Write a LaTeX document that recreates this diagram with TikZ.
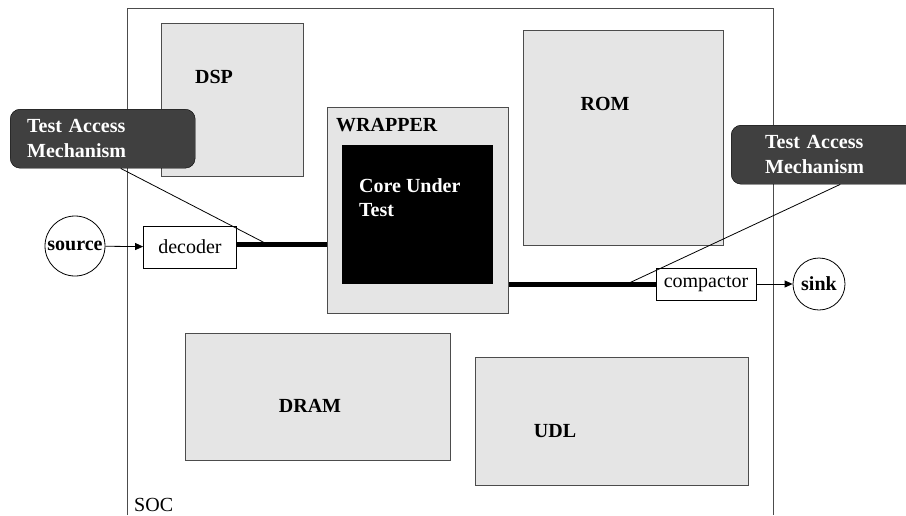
\documentclass[tikz,border=0pt]{standalone}
\usepackage{fontspec}
\setmainfont{Liberation Serif}
\usetikzlibrary{arrows.meta,positioning}

\begin{document}
\begin{tikzpicture}[
  x=1pt,y=-1pt,
  font=\fontsize{20}{24}\selectfont,
  block/.style={draw=black!70,fill=gray!20,line width=1pt,anchor=north west,inner sep=0pt},
  tam/.style={draw=black,fill=black!75,rounded corners=10pt,text=white,align=left,font=\fontsize{20}{25}\selectfont\bfseries,minimum height=59,inner ysep=0pt,anchor=north west},
  port/.style={draw,fill=white,line width=0.8pt,minimum width=93,minimum height=42,inner sep=0pt},
  endpt/.style={draw,circle,fill=white,line width=0.8pt,inner sep=0pt,font=\fontsize{20}{24}\selectfont\bfseries},
  lbl/.style={inner sep=0pt,font=\fontsize{20}{24}\selectfont\bfseries},
  bus/.style={line width=5pt},
  arrow/.style={-{Triangle[length=8pt,width=7pt]},line width=0.8pt}
]
\useasboundingbox (0,0) rectangle (906,515);
% soc frame
\draw[black!70,line width=1pt] (127,515) -- (127,8) -- (773,8) -- (773,515);
\node[anchor=west,inner sep=0pt] (soc) at (134,505) {SOC};
% cores on the chip
\node[block,minimum width=142,minimum height=153] (dsp) at (161,23) {};
\node[lbl] (dsplbl) at (214,77) {DSP};
\node[block,minimum width=200,minimum height=215] (rom) at (523,30) {};
\node[lbl] (romlbl) at (605,104) {ROM};
\node[block,minimum width=265,minimum height=127] (dram) at (185,333) {};
\node[lbl] (dramlbl) at (310,406) {DRAM};
\node[block,minimum width=273,minimum height=128] (udl) at (475,357) {};
\node[lbl] (udllbl) at (555,431) {UDL};
% wrapper and core under test
\node[block,minimum width=181,minimum height=206] (wrapper) at (327,107) {};
\node[lbl,anchor=west] (wraplbl) at (336,125) {WRAPPER};
\node[block,fill=black,draw=black,minimum width=150,minimum height=138] (cut) at (342,145) {};
\node[lbl,text=white,align=left,anchor=west] (cutlbl) at (359,198) {Core Under\\Test};
% test access mechanism callouts
\node[tam,minimum width=185,text width=151,inner xsep=17pt] (tamL) at (10,109) {Test Access\\Mechanism};
\node[tam,minimum width=184,text width=116,inner xsep=34pt] (tamR) at (731,125) {Test Access\\Mechanism};
% source side
\node[endpt,minimum size=60] (source) at (75,246) {source};
\node[port] (decoder) at (190,247) {decoder};
\draw[arrow] (source) -- (decoder);
\draw[bus] ([yshift=3pt]decoder.east) -- ([yshift=3pt]decoder.east -| wrapper.west);
\coordinate (tapL) at (265,243);
\draw[line width=0.8pt] ([xshift=18pt]tamL.south) -- (tapL);
% sink side
\node[port,minimum width=100,minimum height=32] (compactor) at (706,284) {compactor};
\node[endpt,minimum size=52] (sink) at (819,284) {sink};
\draw[arrow] (compactor) -- (sink);
\draw[bus] (compactor.west -| wrapper.east) -- (compactor.west);
\coordinate (tapR) at (627,284);
\draw[line width=0.8pt] ([xshift=17pt]tamR.south) -- (tapR);
\end{tikzpicture}
\end{document}
